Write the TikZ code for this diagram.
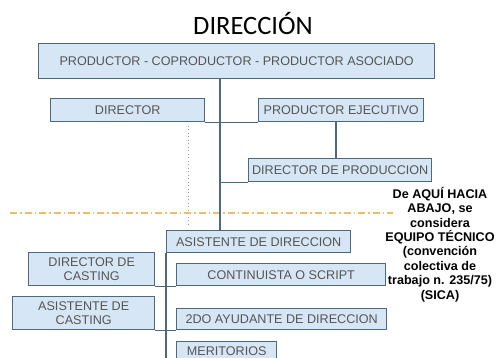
\documentclass[tikz,border=0pt]{standalone}
\usepackage{fontspec}
\setmainfont{Liberation Sans}
\newfontfamily\titlefont{Carlito}
\definecolor{boxfill}{HTML}{D7E6F4}
\definecolor{boxdraw}{HTML}{4C6A7E}
\definecolor{boxtext}{HTML}{555555}
\definecolor{sepline}{HTML}{F3BC62}
\definecolor{dotline}{HTML}{9A9A9A}
\begin{document}
\begin{tikzpicture}[x=1pt,y=-1pt,
  orgbox/.style={draw=boxdraw, line width=1.4pt, fill=boxfill, text=boxtext,
    font=\fontsize{12.6}{13.5}\selectfont, inner sep=0pt, anchor=north west, align=center},
  link/.style={draw=boxdraw, line width=1.4pt},
  sepdash/.style={draw=sepline, line width=1.8pt, dash pattern=on 7pt off 3pt on 1.5pt off 3pt},
  dotdash/.style={draw=dotline, line width=0.9pt, dash pattern=on 1pt off 2.5pt}]
\useasboundingbox (0,0) rectangle (499,358);
\clip (0,0) rectangle (499,358);
\node[font=\titlefont\fontsize{26.5}{30}\selectfont, anchor=base] (title) at (253,35) {DIRECCIÓN};

\node[orgbox, minimum width=396pt, minimum height=35pt] (top) at (38,43) {PRODUCTOR - COPRODUCTOR - PRODUCTOR ASOCIADO};
\node[orgbox, minimum width=154pt, minimum height=23pt] (dir) at (50,98) {DIRECTOR};
\node[orgbox, minimum width=165pt, minimum height=23pt] (pe) at (258,98) {PRODUCTOR EJECUTIVO};
\node[orgbox, minimum width=183pt, minimum height=23pt] (dp) at (248,158) {DIRECTOR DE PRODUCCION};
\node[orgbox, minimum width=184pt, minimum height=22pt] (ad) at (166,230) {ASISTENTE DE DIRECCION};
\node[orgbox, minimum width=209pt, minimum height=22pt] (cs) at (176,263) {CONTINUISTA O SCRIPT};
\node[orgbox, minimum width=210pt, minimum height=21pt] (ay) at (176,308) {2DO AYUDANTE DE DIRECCION};
\node[orgbox, minimum width=100pt, minimum height=18pt] (me) at (176,341) {MERITORIOS};
\node[orgbox, minimum width=126pt, minimum height=33pt] (dc) at (28,252) {DIRECTOR DE\\CASTING};
\node[orgbox, minimum width=142pt, minimum height=33pt] (ac) at (12,296) {ASISTENTE DE\\CASTING};

\node[font=\bfseries\fontsize{12.6}{14.4}\selectfont, align=center, anchor=north, inner sep=0pt] (note) at (440,187)
  {De AQUÍ HACIA\\ABAJO, se\\considera\\EQUIPO TÉCNICO\\(convención\\colectiva de\\trabajo n. 235/75)\\(SICA)};

\coordinate (trunk) at (220,78);
\coordinate (pelink) at (336,121);
\coordinate (adend) at (166,362);
\coordinate (dotA) at (188,126);
\coordinate (dotB) at (188,226);
\coordinate (sepA) at (10,213);
\coordinate (sepB) at (393,213);

\draw[dotdash] (dotA) -- (dotB);
\draw[sepdash] (sepA) -- (sepB);

\draw[link] (top.south -| trunk) -- (ad.north -| trunk);
\draw[link] (dir.south east) -- (pe.south west);
\draw[link] (pe.south -| pelink) -- (dp.north -| pelink);
\draw[link] (dp.south west -| trunk) -- (dp.south west);
\draw[link] (ad.south west) -- (adend);
\draw[link] (dc.south east) -- (cs.south west);
\draw[link] (ac.south east) -- (ay.south west);
\end{tikzpicture}
\end{document}
